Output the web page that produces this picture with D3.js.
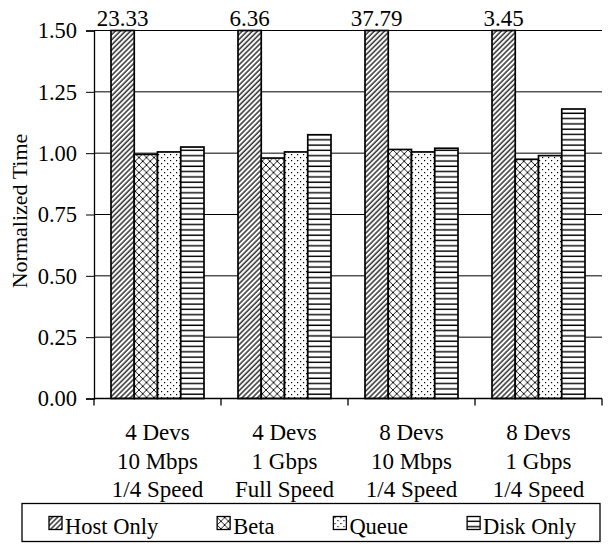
<!DOCTYPE html>
<html>
<head>
<meta charset="utf-8">
<script src="https://cdn.jsdelivr.net/npm/d3@7"></script>
<style>
  body { margin: 0; background: #fff; }
  svg text { font-family: "Liberation Serif", Tinos, "Times New Roman", Times, "DejaVu Serif", serif; }
</style>
</head>
<body>
<script>
// chart data
const categories = [
  ["4 Devs", "10 Mbps", "1/4 Speed"],
  ["4 Devs", "1 Gbps", "Full Speed"],
  ["8 Devs", "10 Mbps", "1/4 Speed"],
  ["8 Devs", "1 Gbps", "1/4 Speed"]
];
const seriesNames = ["Host Only", "Beta", "Queue", "Disk Only"];
const hostOnly = [23.33, 6.36, 37.79, 3.45];
const beta = [0.995, 0.98, 1.015, 0.975];
const queue = [1.005, 1.005, 1.005, 0.99];
const diskOnly = [1.025, 1.075, 1.02, 1.18];
const yTicks = [0, 0.25, 0.5, 0.75, 1.0, 1.25, 1.5];

const allSeries = [hostOnly, beta, queue, diskOnly];
const yMax = 1.5;

const width = 610;
const height = 544;
const margin = { top: 30.5, right: 8, bottom: 145.5, left: 94 };
const font = "'Liberation Serif', Tinos, 'Times New Roman', Times, 'DejaVu Serif', serif";

const svg = d3.select("body")
  .append("svg")
  .attr("width", width)
  .attr("height", height)
  .attr("font-family", font);

// hatch patterns
const defs = svg.append("defs");

const pHost = defs.append("pattern")
  .attr("id", "p0")
  .attr("patternUnits", "userSpaceOnUse")
  .attr("width", 3.6).attr("height", 3.6)
  .attr("patternTransform", "rotate(45)");
pHost.append("rect").attr("width", 3.6).attr("height", 3.6).attr("fill", "#fff");
pHost.append("line").attr("x1", 1).attr("x2", 1).attr("y1", 0).attr("y2", 3.6)
  .attr("stroke", "#000").attr("stroke-width", 1.2);

const pBeta = defs.append("pattern")
  .attr("id", "p1")
  .attr("patternUnits", "userSpaceOnUse")
  .attr("width", 7.5).attr("height", 7.5);
pBeta.append("rect").attr("width", 7.5).attr("height", 7.5).attr("fill", "#fff");
pBeta.append("path").attr("d", "M0,0L7.5,7.5M7.5,0L0,7.5")
  .attr("stroke", "#000").attr("stroke-width", 0.9);

const pQueue = defs.append("pattern")
  .attr("id", "p2")
  .attr("patternUnits", "userSpaceOnUse")
  .attr("width", 6).attr("height", 6);
pQueue.append("rect").attr("width", 6).attr("height", 6).attr("fill", "#fff");
pQueue.append("rect").attr("x", 1).attr("y", 1).attr("width", 1.2).attr("height", 1.2).attr("fill", "#000");
pQueue.append("rect").attr("x", 4).attr("y", 4).attr("width", 1.2).attr("height", 1.2).attr("fill", "#000");

const pDisk = defs.append("pattern")
  .attr("id", "p3")
  .attr("patternUnits", "userSpaceOnUse")
  .attr("width", 6).attr("height", 5.3);
pDisk.append("rect").attr("width", 6).attr("height", 5.3).attr("fill", "#fff");
pDisk.append("line").attr("x1", 0).attr("x2", 6).attr("y1", 2).attr("y2", 2)
  .attr("stroke", "#000").attr("stroke-width", 1.4);

// scales
const x0 = d3.scaleBand()
  .domain(d3.range(categories.length))
  .range([margin.left, width - margin.right]);

const x1 = d3.scaleBand()
  .domain(d3.range(seriesNames.length))
  .range([17, x0.bandwidth() - 17]);

const y = d3.scaleLinear()
  .domain([0, yMax])
  .range([height - margin.bottom, margin.top]);

// gridlines
svg.append("g")
  .selectAll("line")
  .data(yTicks)
  .join("line")
  .attr("x1", margin.left)
  .attr("x2", width - margin.right)
  .attr("y1", d => y(d))
  .attr("y2", d => y(d))
  .attr("stroke", "#000")
  .attr("stroke-width", 1);

// y axis
const yAxis = svg.append("g")
  .attr("transform", `translate(${margin.left},0)`)
  .call(d3.axisLeft(y).tickValues(yTicks).tickFormat(d3.format(".2f")).tickSize(8).tickPadding(9));
yAxis.attr("font-family", font).attr("font-size", 22.5);
yAxis.select(".domain").attr("stroke", "#000").attr("stroke-width", 1.3);
yAxis.selectAll(".tick line").attr("stroke", "#000");
yAxis.selectAll("text").attr("fill", "#000");

// bars
const groups = svg.append("g")
  .selectAll("g")
  .data(categories)
  .join("g")
  .attr("transform", (d, i) => `translate(${x0(i)},0)`);

groups.selectAll("rect")
  .data((d, i) => allSeries.map((s, j) => ({ s: j, v: s[i] })))
  .join("rect")
  .attr("x", d => x1(d.s))
  .attr("y", d => y(Math.min(d.v, yMax)))
  .attr("width", x1.bandwidth())
  .attr("height", d => y(0) - y(Math.min(d.v, yMax)))
  .attr("fill", d => `url(#p${d.s})`)
  .attr("stroke", "#000")
  .attr("stroke-width", 1.7);

// labels for bars above the top of the axis
groups.selectAll(".over")
  .data((d, i) => hostOnly[i] > yMax ? [hostOnly[i]] : [])
  .join("text")
  .attr("class", "over")
  .attr("x", x1(0) + x1.bandwidth() / 2)
  .attr("y", margin.top - 4.5)
  .attr("text-anchor", "middle")
  .attr("font-size", 23)
  .text(d => d.toFixed(2));

// x axis
svg.append("line")
  .attr("x1", margin.left)
  .attr("x2", width - margin.right)
  .attr("y1", y(0))
  .attr("y2", y(0))
  .attr("stroke", "#000")
  .attr("stroke-width", 1.5);

svg.append("g")
  .selectAll("line")
  .data(d3.range(categories.length + 1))
  .join("line")
  .attr("x1", d => margin.left + d * x0.bandwidth())
  .attr("x2", d => margin.left + d * x0.bandwidth())
  .attr("y1", y(0))
  .attr("y2", y(0) + 7)
  .attr("stroke", "#000")
  .attr("stroke-width", 1.3);

const catLabels = svg.append("g")
  .selectAll("text")
  .data(categories)
  .join("text")
  .attr("x", (d, i) => x0(i) + x0.bandwidth() / 2)
  .attr("y", 440)
  .attr("text-anchor", "middle")
  .attr("font-size", 23);

catLabels.selectAll("tspan")
  .data(d => d)
  .join("tspan")
  .attr("x", function () { return this.parentNode.getAttribute("x"); })
  .attr("dy", (d, i) => i === 0 ? 0 : 28.5)
  .text(d => d);

// y title
svg.append("text")
  .attr("transform", "translate(27,211) rotate(-90)")
  .attr("text-anchor", "middle")
  .attr("font-size", 22)
  .text("Normalized Time");

// legend
svg.append("rect")
  .attr("x", 22)
  .attr("y", 503.5)
  .attr("width", 578)
  .attr("height", 38)
  .attr("fill", "none")
  .attr("stroke", "#000")
  .attr("stroke-width", 1.3);

let lx = 49;
seriesNames.forEach((name, i) => {
  const g = svg.append("g").attr("transform", `translate(${lx},0)`);
  g.append("rect")
    .attr("x", 0).attr("y", 516.5)
    .attr("width", 13).attr("height", 13)
    .attr("fill", `url(#p${i})`)
    .attr("stroke", "#000")
    .attr("stroke-width", 1.3);
  const t = g.append("text")
    .attr("x", 16)
    .attr("y", 534)
    .attr("font-size", 22.5)
    .text(name);
  lx += 16 + t.node().getComputedTextLength() + 59;
});
</script>
</body>
</html>
